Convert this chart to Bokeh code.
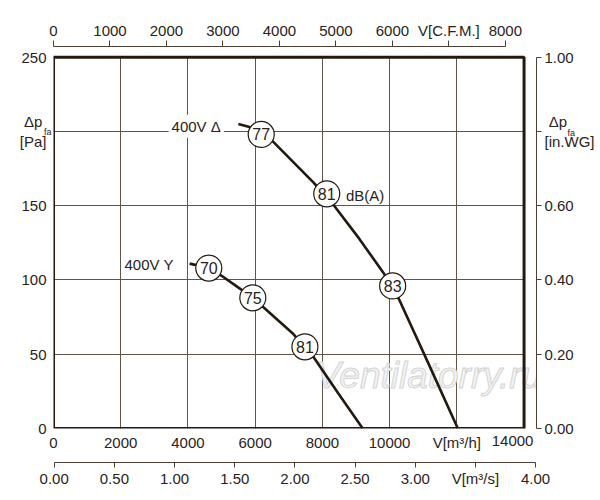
from bokeh.core.properties import value
from bokeh.embed import file_html
from bokeh.models import BoxAnnotation, Label, LinearAxis, PrintfTickFormatter, Range1d
from bokeh.plotting import figure
from bokeh.resources import INLINE

# fan curves: air flow V [m3/h] against static pressure dp_fa [Pa]
delta_flow = [5500, 5830, 6180, 6540, 7150, 7760, 8060, 8350, 9090, 9840, 10070, 10280, 11150, 12030]
delta_pa = [205, 203, 198, 193, 179, 165, 157, 150, 128, 104, 95, 87, 44, 0]
star_flow = [4050, 4250, 4620, 4990, 5430, 5930, 6230, 6670, 7120, 7420, 7740, 8460, 9200]
star_pa = [111, 110, 108, 103, 96, 88, 82, 73, 64, 56, 48, 24, 0]

# sound level marks, dB(A)
delta_db_flow = [6180, 8130, 10090]
delta_db_pa = [198, 158, 96]
delta_db = ["77", "81", "83"]
star_db_flow = [4620, 5930, 7480]
star_db_pa = [108, 88, 55]
star_db = ["70", "75", "81"]

flow_ticks = [0, 2000, 4000, 6000, 8000, 10000, 12000, 14000]
pa_ticks = [0, 50, 100, 150, 200, 250]
cfm_ticks = [0, 1000, 2000, 3000, 4000, 5000, 6000, 7000, 8000]
m3s_ticks = [0, 0.5, 1.0, 1.5, 2.0, 2.5, 3.0, 3.5, 4.0]
inwg_ticks = [0, 0.2, 0.4, 0.6, 0.8, 1.0]

FLOW_MAX = 14000
PA_MAX = 250

FONT = "Liberation Sans"
INK = "#2a221b"
CURVE = "#23190f"
GRID = "#5e544a"

p = figure(width=600, height=492, x_range=Range1d(0, 14370), y_range=Range1d(0, 257.2),
           output_backend="svg", toolbar_location=None,
           min_border_left=52, min_border_right=64, min_border_top=46, min_border_bottom=64)
p.outline_line_color = None
p.background_fill_color = "white"

p.extra_x_ranges = {"cfm": Range1d(0, 8551), "m3s": Range1d(-0.006, 4.0075)}
p.extra_y_ranges = {"inwg": Range1d(0, 1.0288)}


def style(ax, size="15px"):
    ax.major_label_text_font = FONT
    ax.major_label_text_font_size = size
    ax.major_label_text_color = INK
    ax.axis_line_color = "#4a4038"
    ax.major_tick_line_color = "#4a4038"
    ax.minor_tick_line_color = None
    ax.major_tick_in = 0


# main axes sit on the thick frame
xa = p.xaxis[0]
xa.ticker = flow_ticks
xa.major_label_overrides = {12000: "V[m³/h]", 14000: ""}
style(xa)
xa.axis_line_color = None
xa.major_tick_line_color = None
xa.major_tick_out = 0
xa.major_label_standoff = 5
xa.axis_label = " "
xa.axis_label_standoff = 0
xa.axis_label_text_font_size = "6px"

ya = p.yaxis[0]
ya.ticker = pa_ticks
ya.major_label_overrides = {200: "Δp\u00a0\n[Pa]"}
style(ya)
ya.axis_line_color = None
ya.major_tick_line_color = None
ya.major_tick_out = 0
ya.major_label_standoff = 7

cfm_axis = LinearAxis(x_range_name="cfm", ticker=cfm_ticks, bounds=(0, 8000),
                      major_label_overrides={7000: "V[C.F.M.]"})
style(cfm_axis)
cfm_axis.major_tick_out = 6
cfm_axis.major_label_standoff = 2
p.add_layout(cfm_axis, "above")

m3s_axis = LinearAxis(x_range_name="m3s", ticker=m3s_ticks, bounds=(0, 4),
                      formatter=PrintfTickFormatter(format="%.2f"),
                      major_label_overrides={3.5: "V[m³/s]"})
style(m3s_axis)
m3s_axis.major_tick_out = 5
m3s_axis.major_label_standoff = 2
p.add_layout(m3s_axis, "below")

inwg_axis = LinearAxis(y_range_name="inwg", ticker=inwg_ticks, bounds=(0, 1),
                       formatter=PrintfTickFormatter(format="%.2f"),
                       major_label_overrides={0.8: "\u00a0Δp\n[in.WG]"})
style(inwg_axis)
inwg_axis.major_tick_out = 5
inwg_axis.major_label_standoff = 3
p.add_layout(inwg_axis, "right")

p.xgrid.ticker = flow_ticks
p.ygrid.ticker = pa_ticks
p.grid.grid_line_color = GRID
p.grid.grid_line_width = 1

# hide grid lines in the gap between frame and offset axes
p.add_layout(BoxAnnotation(bottom=PA_MAX, fill_color="white", fill_alpha=1, line_color=None, level="underlay"))
p.add_layout(BoxAnnotation(left=FLOW_MAX, fill_color="white", fill_alpha=1, line_color=None, level="underlay"))

p.add_layout(Label(x=7810, y=22, text="Ventilatorry.ru", text_font=FONT, text_font_size="37px",
                   text_font_style="italic", text_color="#f3f3f3",
                   text_outline_color="#d4d4d4", level="underlay"))

p.add_layout(BoxAnnotation(left=0, right=FLOW_MAX, bottom=0, top=PA_MAX, fill_alpha=0,
                           line_color=CURVE, line_width=3, line_alpha=1))

p.line(delta_flow, delta_pa, line_width=2.6, color=CURVE)
p.line(star_flow, star_pa, line_width=2.6, color=CURVE)

for fx, fy, txt in ((delta_db_flow, delta_db_pa, delta_db), (star_db_flow, star_db_pa, star_db)):
    p.scatter(fx, fy, size=26, fill_color="white", line_color=CURVE, line_width=1.2)
    p.text(fx, fy, text=txt, text_align="center", text_baseline="middle",
           text_font=value(FONT), text_font_size="16px", text_color=INK)


def label(x, y, text, size="15px", place="center", **kw):
    p.add_layout(Label(x=x, y=y, text=text, text_font=FONT, text_font_size=size,
                       text_color=INK, **kw), place)


label(5067, 203.5, "400V Δ", text_align="right", text_baseline="middle",
      background_fill_color="white", padding=3)
label(3577, 110.3, "400V Y", text_align="right", text_baseline="middle")
label(8703, 157, "dB(A)", text_align="left", text_baseline="middle")

# texts outside the frame sit in side panels with spare room, else they get clipped
label(0, 200, "fa", size="9px", place="left", x_offset=-9.5, y_offset=-0.5,
      text_align="left", text_baseline="alphabetic")
label(FLOW_MAX, 200, "fa", size="9px", place="left", x_offset=43.5, y_offset=-1.5,
      text_align="left", text_baseline="alphabetic")
label(FLOW_MAX, 0, "14000", place="above", x_offset=-11.5, y_offset=-12.5,
      text_align="center", text_baseline="middle")

open("out.html", "w").write(file_html(p, INLINE))
